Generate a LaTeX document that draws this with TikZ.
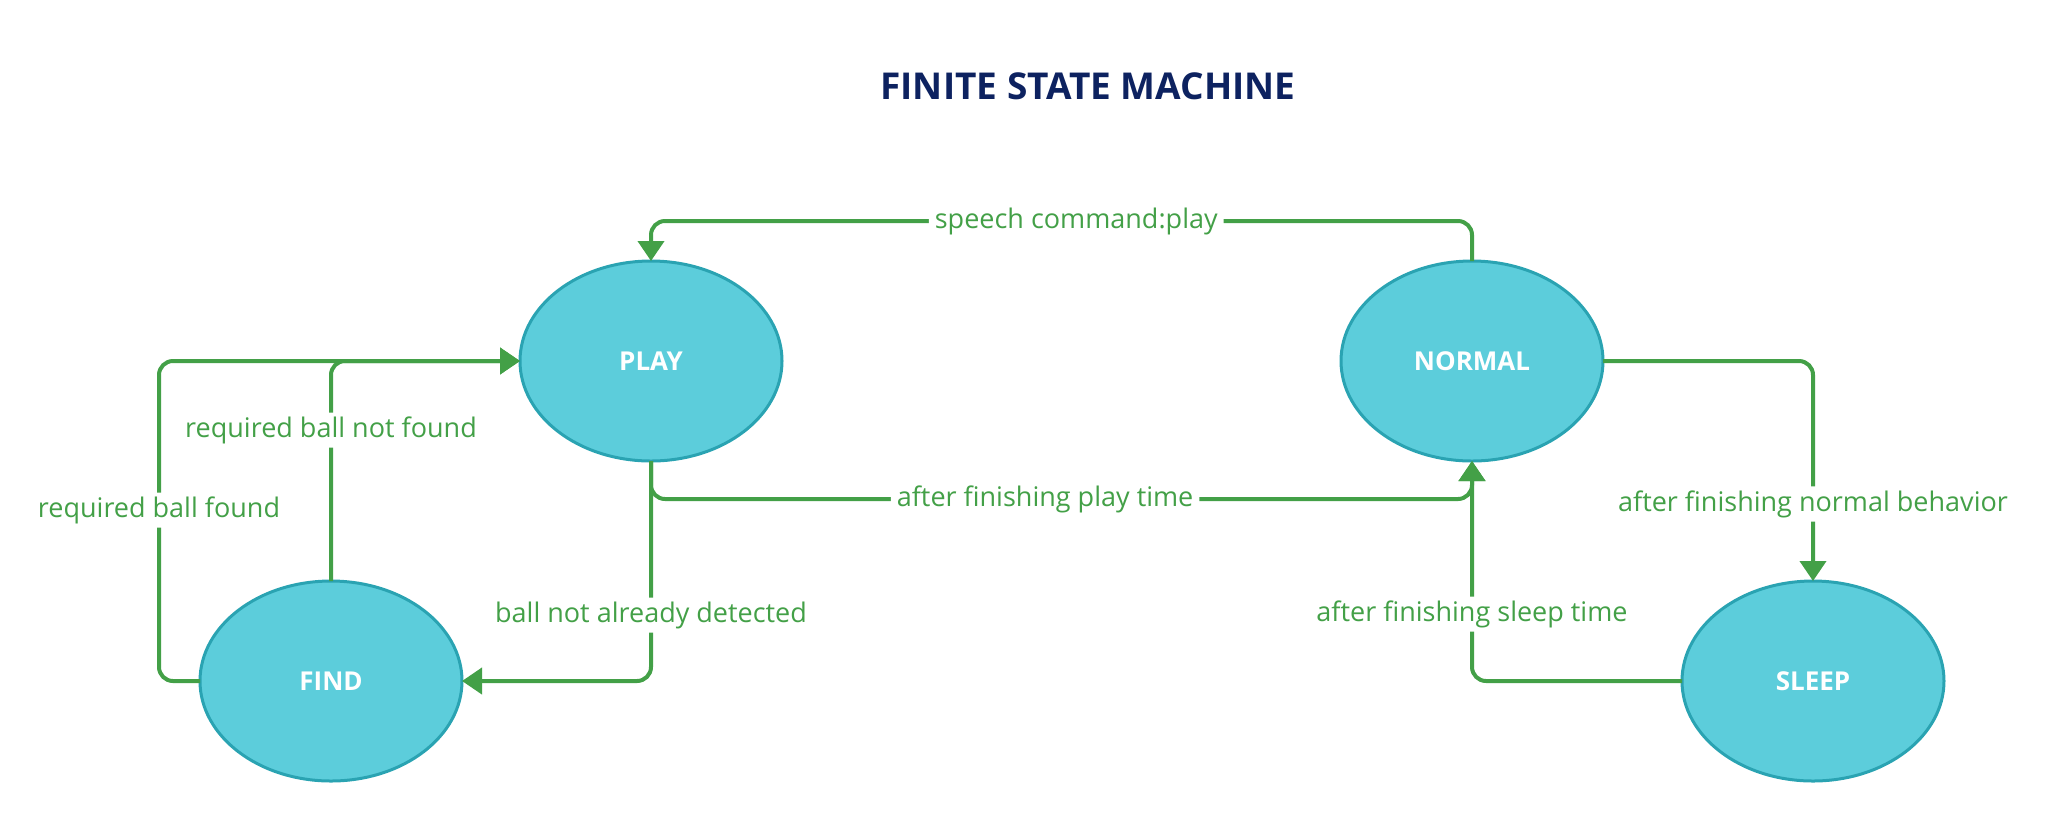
\documentclass[tikz,border=0pt]{standalone}
\usepackage{fontspec}
\setmainfont{Open Sans}
\usepackage{tikz}
\usetikzlibrary{arrows.meta,shapes.geometric}
\definecolor{edgegreen}{RGB}{67,160,71}
\definecolor{statefill}{RGB}{92,205,219}
\definecolor{stateline}{RGB}{42,163,178}
\definecolor{titleblue}{RGB}{13,34,96}
\tikzset{
  state/.style={ellipse, draw=stateline, fill=statefill, line width=1.5pt,
    minimum width=131pt, minimum height=100pt, inner sep=0pt, outer sep=0pt,
    text=white, font=\fontsize{13}{15}\selectfont\bfseries},
  edge/.style={draw=edgegreen, line width=2pt, rounded corners=7pt,
    -{Triangle[length=10pt,width=13pt]}},
  lbl/.style={fill=white, text=edgegreen, inner xsep=3pt, inner ysep=2pt,
    font=\fontsize{13.5}{16}\selectfont}
}
\begin{document}
\begin{tikzpicture}[x=0.5pt, y=-0.5pt]
\useasboundingbox (0,0) rectangle (2046,821);
%%%%% Title %%%%%
\node[text=titleblue, font=\fontsize{18.5}{22}\selectfont\bfseries] (title) at (1088,86) {FINITE STATE MACHINE};
%%%%% States %%%%%
\node[state] (play) at (651,361) {PLAY};
\node[state] (normal) at (1472,361) {NORMAL};
\node[state] (find) at (331,681) {FIND};
\node[state] (sleep) at (1813,681) {SLEEP};
%%%%% Transitions %%%%%
\draw[edge] (normal.north) -- ++(0,-40) -| node[lbl, pos=0.241] {speech command:play} (play.north);
\draw[edge] (play.south) -- ++(0,38) -| node[lbl, pos=0.24] {after finishing play time} (normal.south);
\draw[edge] (play.south) |- node[lbl, pos=0.35] {ball not already detected} (find.east);
\draw[edge] (find.north) |- node[lbl, pos=0.343] {required ball not found} (play.west);
\draw[edge] (find.west) -- ++(-41,0) |- node[lbl, pos=0.267] {required ball found} (play.west);
\draw[edge] (normal.east) -| node[lbl, pos=0.825] {after finishing normal behavior} (sleep.north);
\draw[edge] (sleep.west) -| node[lbl, pos=0.652] {after finishing sleep time} (normal.south);
\end{tikzpicture}
\end{document}
